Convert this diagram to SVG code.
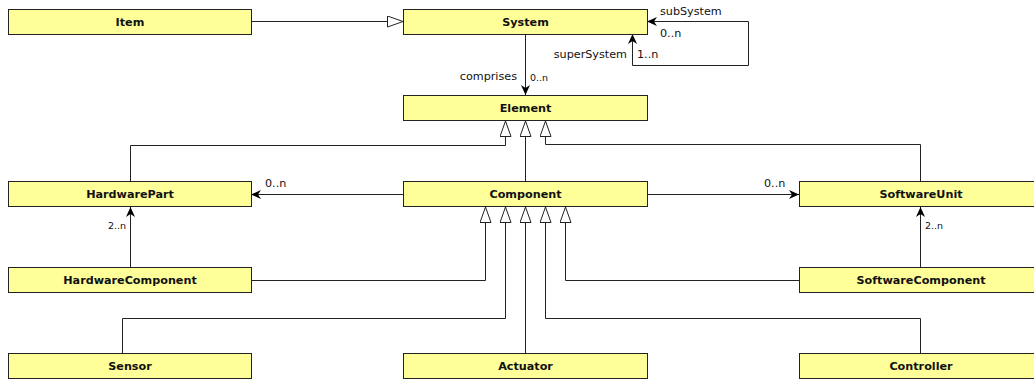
<svg xmlns="http://www.w3.org/2000/svg" width="1034" height="379" viewBox="0 0 1034 379">
  <style>
    .box rect { fill: #ffff99; stroke: #222; stroke-width: 1; }
    .box text { font-family: "DejaVu Sans", "Liberation Sans", sans-serif; font-weight: bold; font-size: 11.2px; fill: #111; text-anchor: middle; }
    .edges path { fill: none; stroke: #222; stroke-width: 1; }
    .lbl { font-family: "DejaVu Sans", "Liberation Sans", sans-serif; font-size: 11.2px; fill: #111; }
    .sm { font-family: "DejaVu Sans", "Liberation Sans", sans-serif; font-size: 9.5px; fill: #111; }
    .gen { marker-end: url(#hollow); }
    .nav { marker-end: url(#arrow); }
  </style>
  <defs>
    <marker id="hollow" markerUnits="userSpaceOnUse" markerWidth="18" markerHeight="14" refX="16" refY="6" orient="auto">
      <path d="M0.5,0.5 L16,6 L0.5,11.5 Z" fill="#fff" stroke="#222" stroke-width="1"/>
    </marker>
    <marker id="arrow" markerUnits="userSpaceOnUse" markerWidth="12" markerHeight="10" refX="10" refY="4.5" orient="auto-start-reverse">
      <path d="M0,0 L10,4.5 L0,9 L3,4.5 Z" fill="#000"/>
    </marker>
  </defs>

  <rect width="1034" height="379" fill="#fff"/>

  <!-- connectors -->
  <g id="connectors" class="edges">
    <path class="gen" d="M251,21.5 H403"/>
    <path d="M632.5,34 V65.5 H748.5 V21.5 H647" marker-start="url(#arrow)" marker-end="url(#arrow)"/>
    <path class="nav" d="M525.5,34 V95"/>
    <path class="gen" d="M130.5,181 V145.5 H505.5 V121"/>
    <path class="gen" d="M525.5,181 V121"/>
    <path class="gen" d="M920.5,181 V144.5 H545.5 V121"/>
    <path class="nav" d="M403,194.5 H251"/>
    <path class="nav" d="M647,194.5 H799"/>
    <path class="nav" d="M130.5,267 V207"/>
    <path class="nav" d="M920.5,267 V207"/>
    <path class="gen" d="M251,280.5 H485.5 V207"/>
    <path class="gen" d="M122.5,353 V318.5 H505.5 V207"/>
    <path class="gen" d="M525.5,353 V207"/>
    <path class="gen" d="M920.5,353 V318.5 H545.5 V207"/>
    <path class="gen" d="M799,280.5 H565.5 V207"/>
  </g>

  <!-- connector labels -->
  <g id="labels">
    <text class="lbl" x="660" y="15">subSystem</text>
    <text class="lbl" x="660" y="37">0..n</text>
    <text class="lbl" x="627" y="58" text-anchor="end">superSystem</text>
    <text class="lbl" x="637" y="58">1..n</text>
    <text class="lbl" x="517" y="80" text-anchor="end">comprises</text>
    <text class="sm" x="530" y="81">0..n</text>
    <text class="lbl" x="265" y="187">0..n</text>
    <text class="lbl" x="764" y="187">0..n</text>
    <text class="sm" x="126" y="229" text-anchor="end">2..n</text>
    <text class="sm" x="925" y="229">2..n</text>
  </g>

  <!-- classes -->
  <g id="Item" class="box"><rect x="8.5" y="9.5" width="243" height="25"/><text x="130" y="26">Item</text></g>
  <g id="System" class="box"><rect x="403.5" y="9.5" width="244" height="25"/><text x="525.5" y="26">System</text></g>
  <g id="Element" class="box"><rect x="403.5" y="95.5" width="244" height="25"/><text x="525.5" y="112">Element</text></g>
  <g id="HardwarePart" class="box"><rect x="8.5" y="181.5" width="243" height="25"/><text x="130" y="198">HardwarePart</text></g>
  <g id="Component" class="box"><rect x="403.5" y="181.5" width="244" height="25"/><text x="525.5" y="198">Component</text></g>
  <g id="SoftwareUnit" class="box"><rect x="799.5" y="181.5" width="244" height="25"/><text x="921" y="198">SoftwareUnit</text></g>
  <g id="HardwareComponent" class="box"><rect x="8.5" y="267.5" width="243" height="25"/><text x="130" y="284">HardwareComponent</text></g>
  <g id="SoftwareComponent" class="box"><rect x="799.5" y="267.5" width="244" height="25"/><text x="921" y="284">SoftwareComponent</text></g>
  <g id="Sensor" class="box"><rect x="8.5" y="353.5" width="243" height="25"/><text x="130" y="370">Sensor</text></g>
  <g id="Actuator" class="box"><rect x="403.5" y="353.5" width="244" height="25"/><text x="525.5" y="370">Actuator</text></g>
  <g id="Controller" class="box"><rect x="799.5" y="353.5" width="244" height="25"/><text x="921" y="370">Controller</text></g>
</svg>
